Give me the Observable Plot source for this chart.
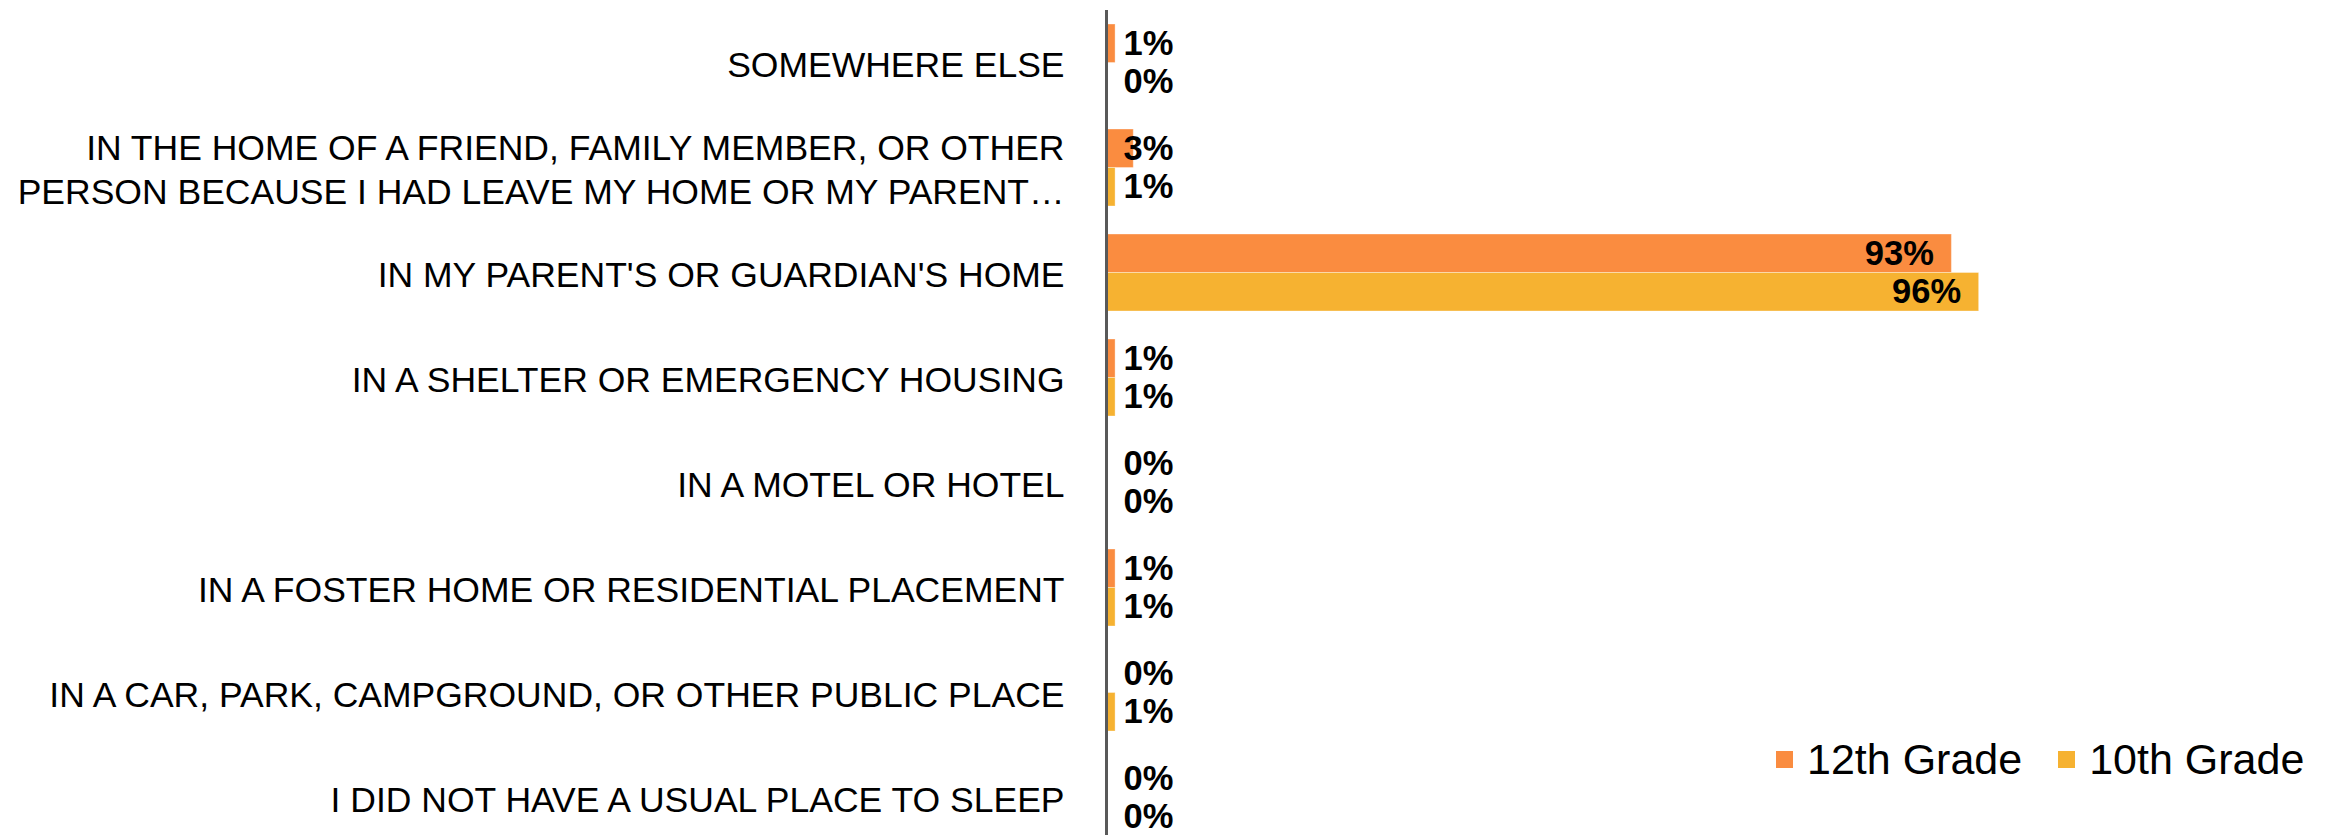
<!DOCTYPE html>
<html>
<head>
<meta charset="utf-8">
<script src="https://cdn.jsdelivr.net/npm/d3@7"></script>
<script src="https://cdn.jsdelivr.net/npm/@observablehq/plot@0.6"></script>
<style>
  html, body { margin: 0; padding: 0; background: #fff; }
  #wrap { position: relative; width: 2336px; height: 835px; overflow: hidden; font-family: "Liberation Sans", Arial, sans-serif; }
  #legend { position: absolute; left: 1776px; top: 735px; display: flex; align-items: center; font-size: 43px; color: #000; }
  #legend .item { display: flex; align-items: center; margin-right: 36px; }
  #legend .item:last-child { margin-right: 0; }
  #legend .sw { width: 17px; height: 17px; margin-right: 14px; }
</style>
</head>
<body>
<div id="wrap"></div>
<script>
const categories = [
  "SOMEWHERE ELSE",
  "IN THE HOME OF A FRIEND, FAMILY MEMBER, OR OTHER\nPERSON BECAUSE I HAD LEAVE MY HOME OR MY PARENT…",
  "IN MY PARENT'S OR GUARDIAN'S HOME",
  "IN A SHELTER OR EMERGENCY HOUSING",
  "IN A MOTEL OR HOTEL",
  "IN A FOSTER HOME OR RESIDENTIAL PLACEMENT",
  "IN A CAR, PARK, CAMPGROUND, OR OTHER PUBLIC PLACE",
  "I DID NOT HAVE A USUAL PLACE TO SLEEP"
];
const grades = ["12th Grade", "10th Grade"];
const grade12 = [0.01, 0.03, 0.93, 0.01, 0.00, 0.01, 0.00, 0.00];
const grade10 = [0.00, 0.01, 0.96, 0.01, 0.00, 0.01, 0.01, 0.00];
const colors = ["#FA8C40", "#F6B231"];

const rows12 = categories.map((c, i) => ({category: c, grade: grades[0], value: grade12[i]}));
const rows10 = categories.map((c, i) => ({category: c, grade: grades[1], value: grade10[i]}));
const fmt = d3.format(".0%");
const small = d => d.value < 0.5;
const big = d => d.value >= 0.5;

const half = 38.5;
const labelFont = {fontSize: 34.5, fontWeight: "bold", fill: "#000"};

const chart = Plot.plot({
  width: 2336,
  height: 835,
  marginLeft: 1106,
  marginRight: 321,
  marginTop: 10,
  marginBottom: 0,
  style: {fontFamily: "'Liberation Sans', Arial, sans-serif", background: "white", color: "#000"},
  x: {domain: [0, 1], axis: null},
  y: {domain: categories, range: [10, 850], paddingInner: 0.267, paddingOuter: 0.133, axis: null},
  color: {domain: grades, range: colors},
  marks: [
    Plot.barX(rows12, {x: "value", y: "category", fill: "grade", insetBottom: half, stroke: "white", strokeOpacity: 0.35, strokeWidth: 1}),
    Plot.barX(rows10, {x: "value", y: "category", fill: "grade", insetTop: half, stroke: "white", strokeOpacity: 0.35, strokeWidth: 1}),
    Plot.ruleX([0], {stroke: "#595959", strokeWidth: 3}),
    Plot.text(rows12.filter(small), {x: 0, y: "category", text: d => fmt(d.value), textAnchor: "start", dx: 17, dy: -half / 2, ...labelFont}),
    Plot.text(rows10.filter(small), {x: 0, y: "category", text: d => fmt(d.value), textAnchor: "start", dx: 17, dy: half / 2, ...labelFont}),
    Plot.text(rows12.filter(big), {x: "value", y: "category", text: d => fmt(d.value), textAnchor: "end", dx: -18, dy: -half / 2, ...labelFont}),
    Plot.text(rows10.filter(big), {x: "value", y: "category", text: d => fmt(d.value), textAnchor: "end", dx: -18, dy: half / 2, ...labelFont}),
    Plot.axisY({tickSize: 0, tickPadding: 42, label: null, fontSize: 35.5, lineHeight: 1.25, fill: "#000"})
  ]
});

const wrap = document.getElementById("wrap");
wrap.appendChild(chart);

const legend = document.createElement("div");
legend.id = "legend";
grades.forEach((g, i) => {
  const item = document.createElement("div");
  item.className = "item";
  const sw = document.createElement("span");
  sw.className = "sw";
  sw.style.background = colors[i];
  const t = document.createElement("span");
  t.textContent = g;
  item.appendChild(sw);
  item.appendChild(t);
  legend.appendChild(item);
});
wrap.appendChild(legend);
</script>
</body>
</html>
